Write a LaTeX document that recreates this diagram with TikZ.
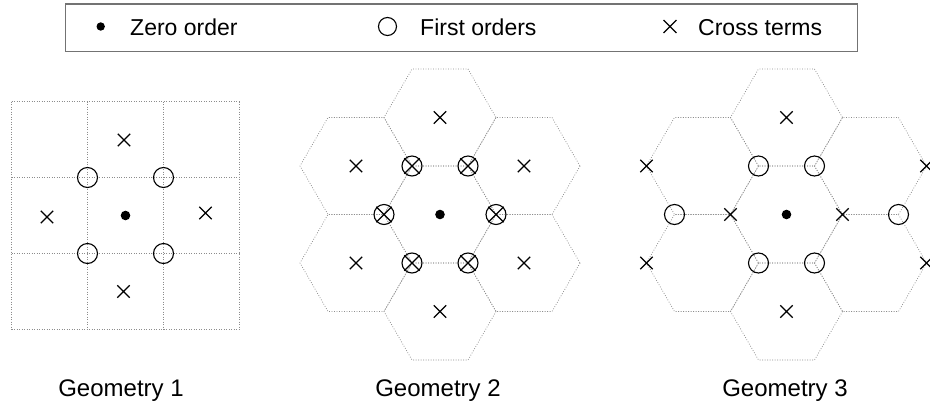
\documentclass[tikz,border=0pt]{standalone}
\usepackage{fontspec}
\setmainfont{Liberation Sans}
\usetikzlibrary{calc,shapes.misc}

% one flat-topped hexagonal cell of side 56 around the given point
\newcommand{\hexcell}[1]{%
  \draw[gridline] (#1) +(0:56) -- +(60:56) -- +(120:56) -- +(180:56)
    -- +(240:56) -- +(300:56) -- cycle;}

\begin{document}
\begin{tikzpicture}[x=1pt,y=-1pt,
  gridline/.style={draw=black!45, line width=0.75pt, dash pattern=on 0.8pt off 1.7pt},
  dotmark/.style={circle, fill=black, inner sep=0pt, minimum size=9.6pt},
  ringmark/.style={circle, draw=black, line width=1.1pt, inner sep=0pt, minimum size=20pt},
  xmark/.style={cross out, draw=black, line width=1.3pt, inner sep=0pt, minimum size=11pt},
  oxmark/.style={xmark, minimum size=14pt},
  legendtext/.style={font=\fontsize{23}{27}\selectfont, inner sep=0pt, anchor=base west},
  geomlabel/.style={font=\fontsize{24}{28}\selectfont, inner sep=0pt, anchor=base}
]
\path[use as bounding box] (0,0) rectangle (930,408);
\clip (0,0) rectangle (930,408);

% ---------------- legend ----------------
\node[draw=black!55, line width=1.2pt, inner sep=0pt, anchor=north west,
      minimum width=791.7pt, minimum height=47.7pt] (legend) at (65,3.3) {};
\node[dotmark, minimum size=8.4pt] (lzero) at (100.7,26.5) {};
\node[legendtext] (tzero) at (130,35) {Zero order};
\node[ringmark, minimum size=18pt] (lfirst) at (387.5,26.5) {};
\node[legendtext] (tfirst) at (420,35) {First orders};
\node[xmark, minimum size=11.5pt] (lcross) at (670,26.5) {};
\node[legendtext] (tcross) at (698,35) {Cross terms};

% ---------------- geometry 1: square cells ----------------
\foreach \i in {0,...,3} {
  \draw[gridline] (11.5+76*\i,101.5) -- (11.5+76*\i,329.5);
  \draw[gridline] (11.5,101.5+76*\i) -- (239.5,101.5+76*\i);
}
\coordinate (g1) at (125.5,215.5);
\node[dotmark] (g1c) at (g1) {};
\node[ringmark] (g1r1) at ($(g1)+(-38,-38)$) {};
\node[ringmark] (g1r2) at ($(g1)+(38,-38)$) {};
\node[ringmark] (g1r3) at ($(g1)+(-38,38)$) {};
\node[ringmark] (g1r4) at ($(g1)+(38,38)$) {};
\node[xmark] (g1x1) at (124,140) {};
\node[xmark] (g1x2) at (123.5,291.5) {};
\node[xmark] (g1x3) at (47,217) {};
\node[xmark] (g1x4) at (205.5,213) {};
\node[geomlabel] (t1) at (121,396) {Geometry 1};

% ---------------- geometry 2: hexagonal cells ----------------
\coordinate (g2) at (440,214.5);
\hexcell{g2}
\foreach \a in {30,90,...,330} { \hexcell{$(g2)+(\a:97)$} }
\node[dotmark] (g2c) at (g2) {};
\foreach \a [count=\k] in {0,60,...,300} {
  \node[ringmark] (g2r\k) at ($(g2)+(\a:56)$) {};
  \node[oxmark] (g2o\k) at ($(g2)+(\a:56)$) {};
}
\foreach \a [count=\k] in {30,90,...,330} {
  \node[xmark] (g2x\k) at ($(g2)+(\a:97)$) {};
}
\node[geomlabel] (t2) at (438,396) {Geometry 2};

% ---------------- geometry 3: hexagonal cells ----------------
\coordinate (g3) at (786.5,214.5);
\hexcell{g3}
\foreach \a in {30,90,...,330} { \hexcell{$(g3)+(\a:97)$} }
\node[dotmark] (g3c) at (g3) {};
\foreach \a [count=\k] in {60,120,240,300} {
  \node[ringmark] (g3r\k) at ($(g3)+(\a:56)$) {};
}
\node[xmark] (g3x1) at ($(g3)+(0:56)$) {};
\node[xmark] (g3x2) at ($(g3)+(180:56)$) {};
\node[xmark] (g3x3) at ($(g3)+(90:97)$) {};
\node[xmark] (g3x4) at ($(g3)+(270:97)$) {};
% outer vertices shared by the side cells
\node[ringmark] (g3r5) at ($(g3)+(-112,0)$) {};
\node[ringmark] (g3r6) at ($(g3)+(112,0)$) {};
\node[xmark] (g3x5) at ($(g3)+(-140,-48.5)$) {};
\node[xmark] (g3x6) at ($(g3)+(-140,48.5)$) {};
\node[xmark] (g3x7) at ($(g3)+(140,-48.5)$) {};
\node[xmark] (g3x8) at ($(g3)+(140,48.5)$) {};
\node[geomlabel] (t3) at (785,396) {Geometry 3};
\end{tikzpicture}
\end{document}
